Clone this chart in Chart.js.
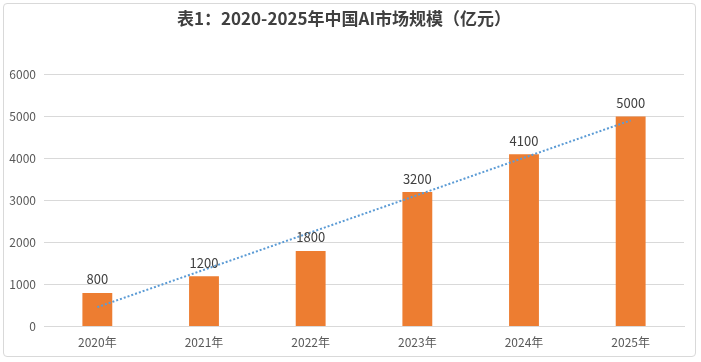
<!DOCTYPE html>
<html><head><meta charset="utf-8">
<script src="https://cdn.jsdelivr.net/npm/chart.js@4/dist/chart.umd.min.js"></script>
<style>
html,body{margin:0;padding:0;background:#fff;}
#wrap{position:absolute;left:0;top:0;width:701px;height:362px;}
#frame{position:absolute;left:3px;top:3px;width:693px;height:354px;border:1px solid #d9d9d9;border-radius:4px;box-sizing:border-box;}
canvas{position:absolute;left:0;top:0;}
</style></head>
<body><div id="wrap"><div id="frame"></div><canvas id="c" width="701" height="362"></canvas></div>
<script>
const titleText = '表1：2020-2025年中国AI市场规模（亿元）';
const categories = ['2020年','2021年','2022年','2023年','2024年','2025年'];
const marketSize = [800, 1200, 1800, 3200, 4100, 5000];
const trendValues = [462, 1351, 2240, 3128, 4017, 4905];
const yTicks = [0, 1000, 2000, 3000, 4000, 5000, 6000];

const FONT = '"Noto Sans CJK SC", "Microsoft YaHei", sans-serif';

const labelPlugin = {
  id: 'barLabels',
  afterDatasetsDraw(chart) {
    const ctx = chart.ctx;
    const meta = chart.getDatasetMeta(0);
    ctx.save();
    ctx.font = '13px ' + FONT;
    ctx.fillStyle = '#404040';
    ctx.textAlign = 'center';
    ctx.textBaseline = 'bottom';
    meta.data.forEach((bar, i) => {
      ctx.fillText(String(marketSize[i]), bar.x, bar.y - 7);
    });
    ctx.restore();
  }
};

new Chart(document.getElementById('c'), {
  data: {
    labels: categories,
    datasets: [
      {
        type: 'bar',
        data: marketSize,
        backgroundColor: '#ED7D31',
        barPercentage: 0.56,
        categoryPercentage: 0.5,
        order: 2
      },
      {
        type: 'line',
        data: trendValues,
        borderColor: '#5B9BD5',
        borderWidth: 2,
        borderDash: [2, 2],
        pointRadius: 0,
        fill: false,
        tension: 0,
        order: 1
      }
    ]
  },
  options: {
    responsive: false,
    animation: false,
    layout: { padding: { left: 4, right: 17, top: 0, bottom: 11 } },
    plugins: {
      legend: { display: false },
      tooltip: { enabled: false },
      title: {
        display: true,
        text: titleText,
        color: '#404040',
        font: { family: FONT, size: 17, weight: 'bold' },
        padding: { top: 8, bottom: 46 }
      }
    },
    scales: {
      x: {
        grid: { display: false },
        border: { display: true, color: '#d9d9d9', width: 1 },
        ticks: { color: '#595959', font: { family: FONT, size: 12 }, padding: 1 }
      },
      y: {
        min: 0, max: 6000,
        afterFit(scale) { scale.width = 40; },
        afterBuildTicks(scale) { scale.ticks = yTicks.map(v => ({ value: v })); },
        grid: { color: '#d9d9d9', drawTicks: false },
        border: { display: false },
        ticks: { color: '#595959', font: { family: FONT, size: 12 }, padding: 8,
                 callback: (v) => String(v) }
      }
    }
  },
  plugins: [labelPlugin]
});
</script></body></html>
